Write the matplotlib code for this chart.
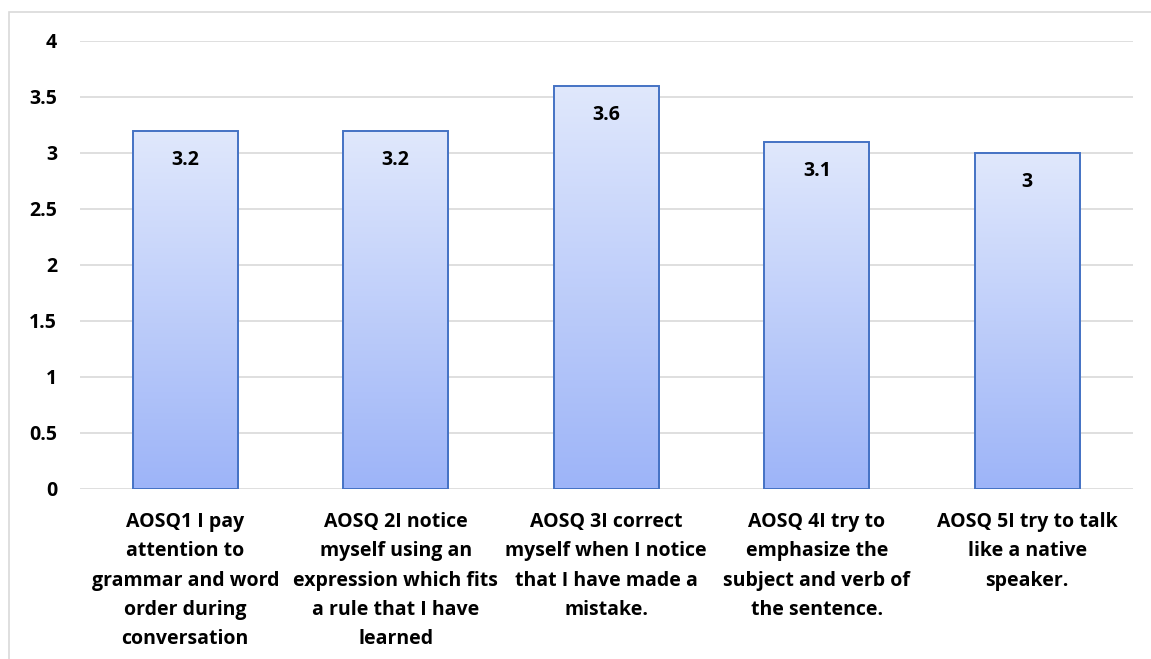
import matplotlib.pyplot as plt
import matplotlib.patches as mpatches
import numpy as np
from matplotlib.colors import LinearSegmentedColormap

plt.rcParams['font.family'] = ['Open Sans', 'DejaVu Sans']

categories = [
    "AOSQ1 I pay\nattention to\ngrammar and word\norder during\nconversation",
    "AOSQ 2I notice\nmyself using an\nexpression which fits\na rule that I have\nlearned",
    "AOSQ 3I correct\nmyself when I notice\nthat I have made a\nmistake.",
    "AOSQ 4I try to\nemphasize the\nsubject and verb of\nthe sentence.",
    "AOSQ 5I try to talk\nlike a native\nspeaker.",
]
values = [3.2, 3.2, 3.6, 3.1, 3.0]
value_labels = ["3.2", "3.2", "3.6", "3.1", "3"]
yticks = [0, 0.5, 1, 1.5, 2, 2.5, 3, 3.5, 4]
ytick_labels = ["0", "0.5", "1", "1.5", "2", "2.5", "3", "3.5", "4"]

W, H = 1151, 659
fig = plt.figure(figsize=(W / 100, H / 100), dpi=100)
ax = fig.add_axes([80 / W, 1 - 489 / H, (1132.5 - 80) / W, (489 - 41) / H])

# outer chart frame
fig.patches.append(mpatches.Rectangle((9 / W, -0.01), 1.02, 1 - 12 / H + 0.01,
                                      transform=fig.transFigure, fill=False,
                                      edgecolor='#d9d9d9', linewidth=1.2))

x = np.arange(len(values))
bars = ax.bar(x, values, width=0.5, color='none', edgecolor='#4472c4',
              linewidth=1.4, zorder=3)

# vertical gradient fill, light on top
cmap = LinearSegmentedColormap.from_list('grad', ['#9db4f8', '#e0e8fc'])
grad = np.linspace(0, 1, 256).reshape(-1, 1)
for b in bars:
    x0, w, h = b.get_x(), b.get_width(), b.get_height()
    im = ax.imshow(grad, cmap=cmap, aspect='auto', origin='lower',
                   extent=(x0, x0 + w, 0, h), zorder=2)
    im.set_clip_path(b)

for xi, v, lab in zip(x, values, value_labels):
    ax.annotate(lab, (xi, v), xytext=(0, -21), textcoords='offset points',
                ha='center', va='center', fontsize=14, fontweight='bold',
                color='#000000', zorder=4)

ax.set_xlim(-0.5, len(values) - 0.5)
ax.set_ylim(0, 4)
ax.set_yticks(yticks)
ax.set_yticklabels(ytick_labels, fontweight='bold')
ax.set_xticks(x)
ax.set_xticklabels(categories, linespacing=1.62, fontweight='bold')
ax.tick_params(axis='both', length=0, labelsize=14)
ax.tick_params(axis='y', pad=16.5)
ax.tick_params(axis='x', pad=16.5)

ax.grid(axis='y', color='#d9d9d9', linewidth=1.2, zorder=0)
ax.set_axisbelow(True)
for s in ax.spines.values():
    s.set_visible(False)

fig.savefig('out.png', dpi=100)
